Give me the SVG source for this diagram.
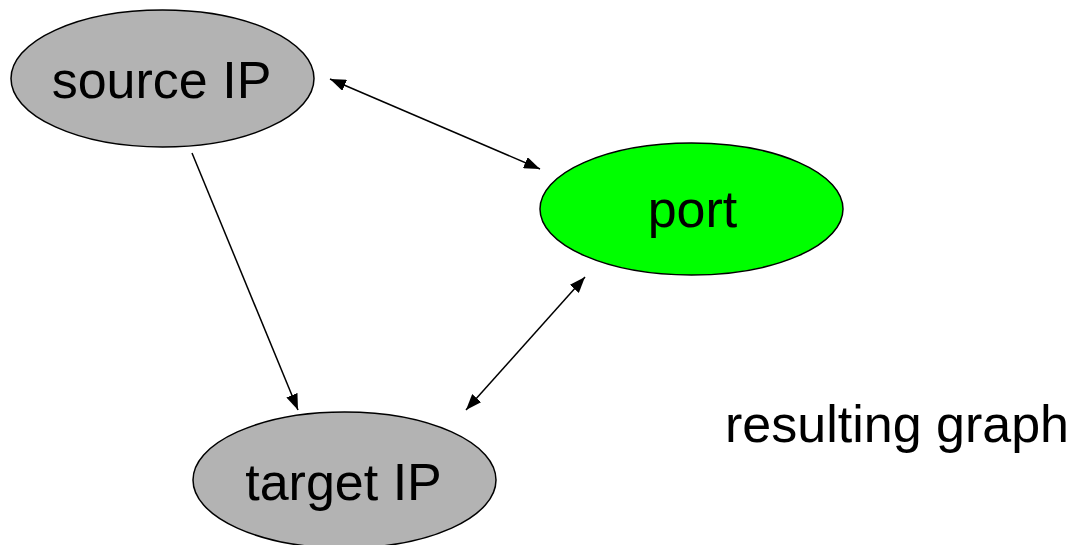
<svg xmlns="http://www.w3.org/2000/svg" width="1079" height="545" viewBox="0 0 1079 545">
  <style>
    .node { stroke: #000; stroke-width: 1.5; }
    .ip { fill: #b3b3b3; }
    .port { fill: #00ff00; }
    .label { font-family: "Liberation Sans", Arial, sans-serif; font-size: 52px; fill: #000; }
    .edge { stroke: #000; stroke-width: 1.5; fill: none; }
  </style>
  <defs>
    <marker id="head" viewBox="0 0 16 12" refX="16" refY="6" markerWidth="16" markerHeight="12" markerUnits="userSpaceOnUse" orient="auto-start-reverse">
      <path d="M0,0 L16,6 L0,12 Z" fill="#000"/>
    </marker>
  </defs>

  <g id="connectors">
    <line class="edge" x1="330" y1="79" x2="540" y2="169" marker-start="url(#head)" marker-end="url(#head)"/>
    <line class="edge" x1="192" y1="153" x2="298" y2="410" marker-end="url(#head)"/>
    <line class="edge" x1="585" y1="277" x2="466" y2="410" marker-start="url(#head)" marker-end="url(#head)"/>
  </g>

  <g id="source-ip">
    <ellipse class="node ip" cx="162.5" cy="78.5" rx="151.5" ry="68.5"/>
    <text class="label" x="161.5" y="98" text-anchor="middle">source IP</text>
  </g>

  <g id="port">
    <ellipse class="node port" cx="691.5" cy="209" rx="151.5" ry="66"/>
    <text class="label" x="692.5" y="227" text-anchor="middle">port</text>
  </g>

  <g id="target-ip">
    <ellipse class="node ip" cx="344.5" cy="480" rx="151.5" ry="68"/>
    <text class="label" x="343.5" y="500" text-anchor="middle">target IP</text>
  </g>

  <g id="caption">
    <text class="label" x="725" y="442">resulting graph</text>
  </g>
</svg>
